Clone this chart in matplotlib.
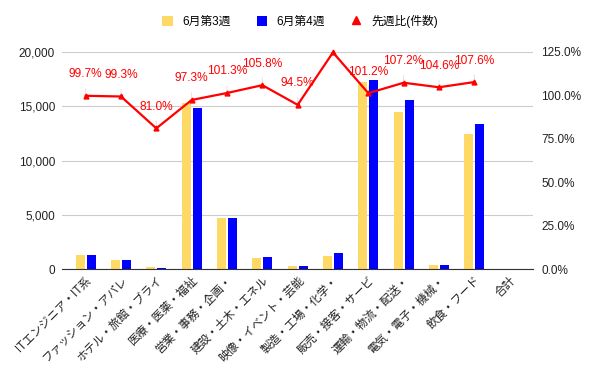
import matplotlib
matplotlib.use("Agg")
import matplotlib.pyplot as plt
import numpy as np

plt.rcParams['font.family'] = ['Liberation Sans', 'Noto Sans CJK JP', 'DejaVu Sans']

categories = ["ITエンジニア・IT系", "ファッション・アパレ", "ホテル・旅館・ブライ", "医療・医薬・福祉",
              "営業・事務・企画・", "建設・土木・エネル", "映像・イベント・芸能", "製造・工場・化学・",
              "販売・接客・サービ", "運輸・物流・配送・", "電気・電子・機械・", "飲食・フード", "合計"]
week3 = [1320, 870, 200, 15250, 4700, 1040, 320, 1200, 17200, 14500, 390, 12450, 0]
week4 = [1316, 864, 162, 14840, 4760, 1100, 302, 1495, 17406, 15544, 408, 13400, 0]
ratio = [99.7, 99.3, 81.0, 97.3, 101.3, 105.8, 94.5, 124.6, 101.2, 107.2, 104.6, 107.6]
ratio_labels = ["99.7%", "99.3%", "81.0%", "97.3%", "101.3%", "105.8%", "94.5%", "",
                "101.2%", "107.2%", "104.6%", "107.6%"]
left_ticks = [0, 5000, 10000, 15000, 20000]
right_ticks = [0, 25, 50, 75, 100, 125]

fig = plt.figure(figsize=(6, 3.71), dpi=100)
ax = fig.add_axes([0.1033, 0.274, 0.785, 0.5865])
x = np.arange(len(categories))
w = 0.255
ax.bar(x - 0.155, week3, width=w, color="#ffd966", label="6月第3週", zorder=2)
ax.bar(x + 0.155, week4, width=w, color="#0000ff", label="6月第4週", zorder=2)
ax.set_xlim(-0.67, 12.66)
ax.set_ylim(0, 20000)
ax.set_yticks(left_ticks)
ax.set_yticklabels([f"{v:,}" for v in left_ticks])
ax.grid(axis='y', color="#cccccc", lw=0.8, zorder=0)
ax.set_axisbelow(True)
for s in ["top", "right", "left"]:
    ax.spines[s].set_visible(False)
ax.spines["bottom"].set_color("#333333")
ax.tick_params(axis='both', length=0, labelsize=8.5, colors="#222222")
ax.tick_params(axis='y', pad=5)
ax.set_xticks(x)
ax.set_xticklabels(categories, rotation=45, ha='right', va='top', rotation_mode='anchor', fontsize=8.3)

ax2 = ax.twinx()
ax2.set_ylim(0, 125)
ax2.set_yticks(right_ticks)
ax2.set_yticklabels([f"{v:.1f}%" for v in right_ticks])
for s in ["top", "right", "left", "bottom"]:
    ax2.spines[s].set_visible(False)
ax2.tick_params(axis='y', length=0, labelsize=8.5, colors="#222222", pad=6)
xr = x[:len(ratio)]
ax2.plot(xr, ratio, color="#ff0000", lw=1.6, marker="^", markersize=3.5, label="先週比(件数)", zorder=5, clip_on=False)
for xi, v, lab in zip(xr, ratio, ratio_labels):
    if lab:
        ax2.annotate(lab, xy=(xi, v), xytext=(0, 15.5), textcoords="offset points",
                     ha="center", va="center", fontsize=8.6, color="#ff0000",
                     arrowprops=dict(arrowstyle="-", color="#dddddd", lw=0.6, shrinkA=4, shrinkB=0))

h1, l1 = ax.get_legend_handles_labels()
h2 = [plt.Line2D([], [], color="#ff0000", marker="^", lw=0, markersize=6)]
fig.legend(h1 + h2, l1 + ["先週比(件数)"], loc="center", bbox_to_anchor=(0.5, 0.943), ncol=3,
           frameon=False, fontsize=8.5, handlelength=0.9, handleheight=0.9, columnspacing=2.2, handletextpad=0.8)

fig.savefig("out.png", dpi=100)
